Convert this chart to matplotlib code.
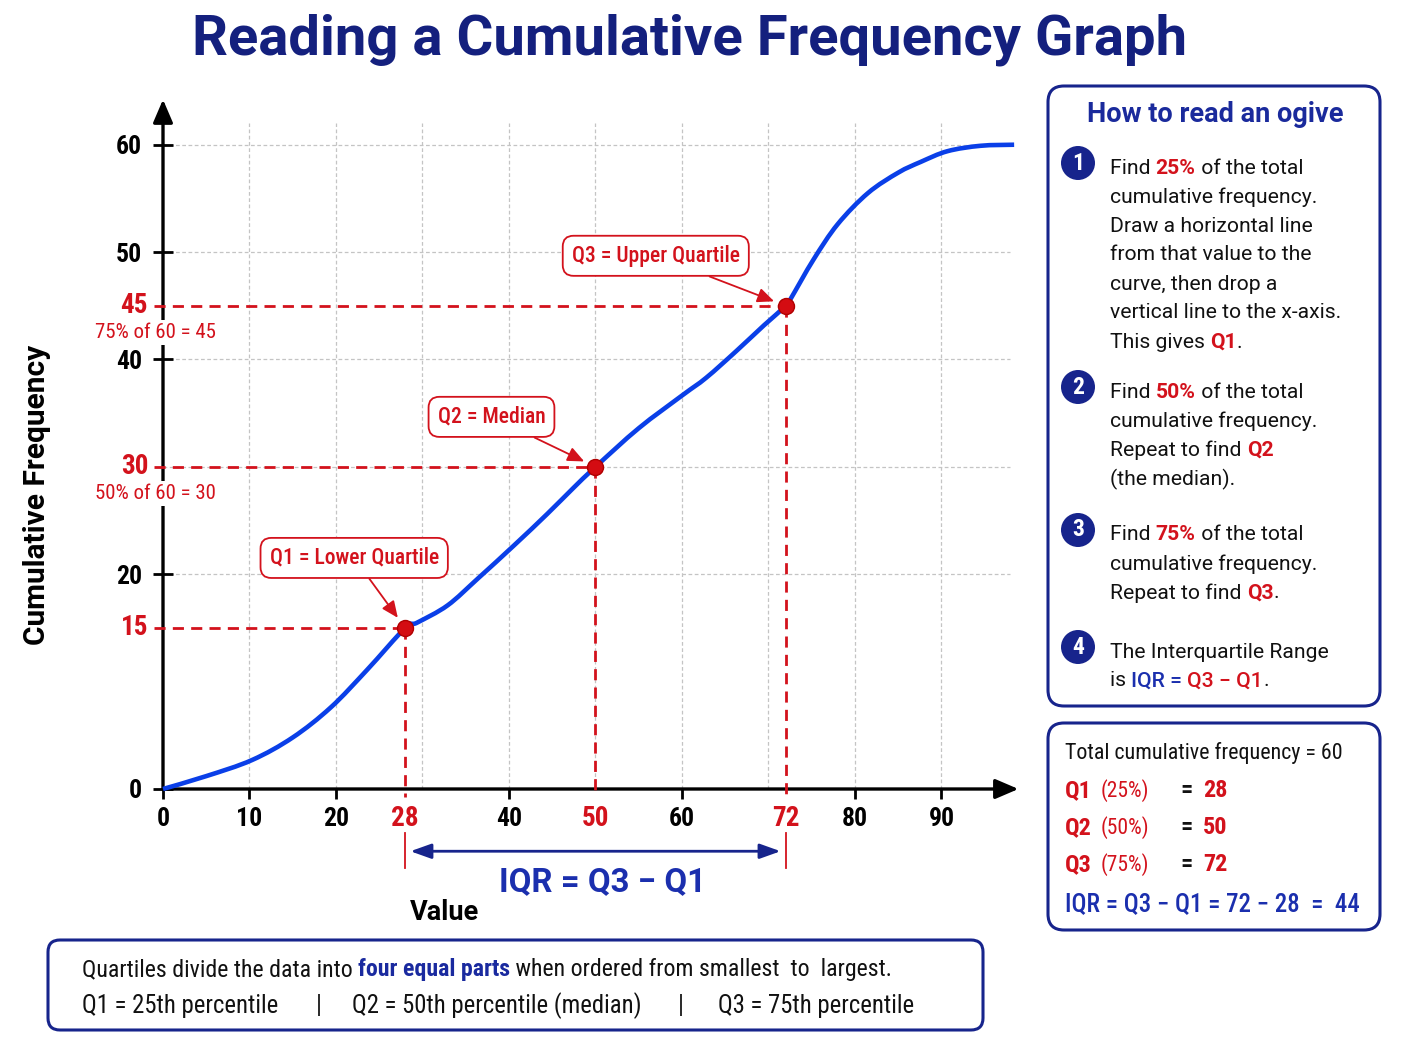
import matplotlib
matplotlib.use("Agg")
import matplotlib.pyplot as plt
import matplotlib.transforms as mtrans
from matplotlib.patches import FancyBboxPatch, Circle, PathPatch
from matplotlib.path import Path

# ---- values ----
value = [0, 5, 10.3, 15, 19.4, 23.6, 28, 29.4, 32.9, 36.4, 40.6, 44.4, 47.4, 50,
         55, 60.1, 62.8, 66.3, 69.5, 72, 72.6, 75.2, 78, 81.5, 85, 87.6, 90.7, 94.5, 98.4]
cum_freq = [0, 1.2, 2.7, 4.8, 7.6, 11.1, 15, 15.5, 17.1, 19.6, 22.7, 25.6, 28.0, 30,
            33.6, 36.7, 38.3, 40.8, 43.2, 45, 45.7, 49.3, 52.6, 55.5, 57.4, 58.4, 59.4, 59.9, 60]
total_freq = 60
quart_names = ['Q1', 'Q2', 'Q3']
quart_pct = [25, 50, 75]
quart_value = [28, 50, 72]
quart_freq = [15, 30, 45]
quart_notes = ['Q1 = Lower Quartile', 'Q2 = Median', 'Q3 = Upper Quartile']
x_ticks = [0, 10, 20, 40, 60, 80, 90]
y_ticks = [0, 20, 40, 50, 60]
grid_x = [10, 20, 30, 40, 50, 60, 70, 80, 90]
grid_y = [20, 30, 40, 50, 60]

W, H = 1408, 1056
NAVY = '#17248c'
CURVE = '#0a3fe8'
RED = '#d3121c'
TBLUE = '#1b2fae'
GRIDC = '#c4c4c4'
K = '#111111'
COND = ['Roboto Condensed', 'IBM Plex Sans Condensed', 'DejaVu Sans']
REG = ['Roboto', 'DejaVu Sans']
plt.rcParams['font.family'] = COND

fig = plt.figure(figsize=(W / 100, H / 100), dpi=100)
fig.patch.set_facecolor('white')

# overlay axes in pixel units for the boxes and free text
ov = fig.add_axes([0, 0, 1, 1], zorder=0)
ov.set_xlim(0, W)
ov.set_ylim(H, 0)
ov.axis('off')

# main graph
px0, px1, py0, py1 = 163, 1015, 789, 105
ax = fig.add_axes([px0 / W, 1 - py0 / H, (px1 - px0) / W, (py0 - py1) / H], zorder=2)
ax.patch.set_alpha(0)
ax.set_xlim(0, 98.5)
ax.set_ylim(0, 63.7)
for s in ax.spines.values():
    s.set_visible(False)

ax.vlines(grid_x, 0, 62, colors=GRIDC, linestyles=(0, (3, 2)), lw=0.9, zorder=1)
ax.hlines(grid_y, 0, 97.9, colors=GRIDC, linestyles=(0, (3, 2)), lw=0.9, zorder=1)

# axes with arrow heads
arr = dict(arrowstyle='-|>,head_length=0.7,head_width=0.3', color='black', lw=2.4,
           shrinkA=0, shrinkB=0, mutation_scale=20)
ax.annotate('', xy=(1.004, 0), xytext=(0, 0), xycoords='axes fraction',
            arrowprops=arr, annotation_clip=False, zorder=3)
ax.annotate('', xy=(0, 1.008), xytext=(0, 0), xycoords='axes fraction',
            arrowprops=arr, annotation_clip=False, zorder=3)

ax.set_xticks(x_ticks)
ax.set_yticks(y_ticks)
ax.tick_params(axis='x', direction='out', length=7, width=2, labelsize=18.5, pad=6)
ax.tick_params(axis='y', direction='inout', length=14, width=2, labelsize=18.5, pad=8)
for lbl in ax.get_xticklabels() + ax.get_yticklabels():
    lbl.set_fontweight('semibold')

# smooth ogive through the read points (Catmull-Rom -> cubic Bezier)
pts = list(zip(value, cum_freq))
verts = [pts[0]]
codes = [Path.MOVETO]
for i in range(len(pts) - 1):
    p0 = pts[max(i - 1, 0)]
    p1 = pts[i]
    p2 = pts[i + 1]
    p3 = pts[min(i + 2, len(pts) - 1)]
    c1 = (p1[0] + (p2[0] - p0[0]) / 6, p1[1] + (p2[1] - p0[1]) / 6)
    c2 = (p2[0] - (p3[0] - p1[0]) / 6, p2[1] - (p3[1] - p1[1]) / 6)
    verts += [c1, c2, p2]
    codes += [Path.CURVE4] * 3
ax.add_patch(PathPatch(Path(verts, codes), fc='none', ec=CURVE, lw=3.3, zorder=4,
                       capstyle='butt', clip_on=False))

blend = mtrans.blended_transform_factory(ax.transData, ax.transAxes)
offsets = [(-51, 70), (-104, 50), (-130, 50)]
for name, pct, q, f, note, off in zip(quart_names, quart_pct, quart_value, quart_freq,
                                      quart_notes, offsets):
    ax.plot([-1, q], [f, f], color=RED, lw=2, ls=(0, (4, 2.6)), clip_on=False, zorder=3)
    ax.plot([q, q], [f, -0.7], color=RED, lw=2, ls=(0, (4, 2.6)), clip_on=False, zorder=3)
    ax.plot(q, f, 'o', ms=11.5, mfc='#d40c12', mec='#b00000', mew=1, zorder=6, clip_on=False)
    ax.annotate(str(q), xy=(q, 0), xytext=(0, -16), textcoords='offset pixels',
                ha='center', va='top', color=RED, fontsize=19.5, fontweight='semibold',
                annotation_clip=False)
    ax.annotate(str(f), xy=(0, f), xycoords=('axes fraction', 'data'), xytext=(-15, 0),
                textcoords='offset pixels', ha='right', va='center', color=RED,
                fontsize=19.5, fontweight='semibold', annotation_clip=False)
    if pct >= 50:
        ax.annotate(f'{pct}% of {total_freq} = {f}', xy=(0, f),
                    xycoords=('axes fraction', 'data'), xytext=(-8, -27),
                    textcoords='offset pixels', ha='center', va='center', color=RED,
                    fontsize=15, annotation_clip=False, zorder=5,
                    bbox=dict(boxstyle='square,pad=0.15', fc='white', ec='none'))
    ax.annotate(note, xy=(q, f), xytext=off, textcoords='offset pixels',
                ha='center', va='center', color=RED, fontsize=15.5, fontweight='medium',
                zorder=7,
                bbox=dict(boxstyle='round,pad=0.42,rounding_size=0.5', fc='white',
                          ec=RED, lw=1.3),
                arrowprops=dict(arrowstyle='-|>,head_length=0.5,head_width=0.22',
                                color=RED, lw=1.3, shrinkA=0, shrinkB=9,
                                mutation_scale=20))

# IQR bracket under the axis
q1, q3 = quart_value[0], quart_value[2]
for q in (q1, q3):
    ax.plot([q, q], [-0.064, -0.116], color=RED, lw=1.3, transform=blend, clip_on=False)
ax.annotate('', xy=(q3 - 0.6, -0.091), xytext=(q1 + 0.6, -0.091),
            xycoords=('data', 'axes fraction'),
            arrowprops=dict(arrowstyle='<|-|>,head_length=0.7,head_width=0.25',
                            color=NAVY, lw=2, mutation_scale=18, shrinkA=0, shrinkB=0),
            annotation_clip=False)
ax.text((q1 + q3) / 2 + 0.8, -0.136, 'IQR = Q3 \u2212 Q1', transform=blend, ha='center',
        va='center', fontsize=23.8, fontweight='bold', color=TBLUE, family=REG)

# titles and axis labels
ov.text(690, 40, 'Reading a Cumulative Frequency Graph', ha='center', va='center',
        fontsize=40.5, fontweight='bold', color='#14207e', family=REG)
ov.text(445, 913, 'Value', ha='center', va='center', fontsize=19.5,
        fontweight='bold', family=REG)
ov.text(37, 495, 'Cumulative Frequency', ha='center', va='center', rotation=90,
        fontsize=21.5, fontweight='bold', family=REG)

renderer = fig.canvas.get_renderer()


def advance(txt, size, wt, family):
    a = ov.text(0, 0, txt + '|', fontsize=size, fontweight=wt, family=family)
    b = ov.text(0, 0, '|', fontsize=size, fontweight=wt, family=family)
    w = a.get_window_extent(renderer).width - b.get_window_extent(renderer).width
    a.remove()
    b.remove()
    return w


def rich(x, y, parts, size, family):
    for txt, col, wt in parts:
        ov.text(x, y, txt, color=col, fontweight=wt, fontsize=size, family=family,
                ha='left', va='center_baseline')
        x += advance(txt, size, wt, family)


def rbox(x, y, w, h, r=16):
    ov.add_patch(FancyBboxPatch((x, y), w, h, boxstyle=f'round,pad=0,rounding_size={r}',
                                fc='white', ec=NAVY, lw=2.2))


# ---- right panel: how to read ----
rbox(1048, 86, 332, 620)
ov.text(1215, 115, 'How to read an ogive', ha='center', va='center', fontsize=19.5,
        fontweight='bold', color='#1a2a9c', family=REG)

steps = [
    [[('Find ', K, 'normal'), (f'{quart_pct[0]}%', RED, 'bold'), (' of the total', K, 'normal')],
     [('cumulative frequency.', K, 'normal')],
     [('Draw a horizontal line', K, 'normal')],
     [('from that value to the', K, 'normal')],
     [('curve, then drop a', K, 'normal')],
     [('vertical line to the x-axis.', K, 'normal')],
     [('This gives ', K, 'normal'), (quart_names[0], RED, 'bold'), ('.', K, 'normal')]],
    [[('Find ', K, 'normal'), (f'{quart_pct[1]}%', RED, 'bold'), (' of the total', K, 'normal')],
     [('cumulative frequency.', K, 'normal')],
     [('Repeat to find ', K, 'normal'), (quart_names[1], RED, 'bold')],
     [('(the median).', K, 'normal')]],
    [[('Find ', K, 'normal'), (f'{quart_pct[2]}%', RED, 'bold'), (' of the total', K, 'normal')],
     [('cumulative frequency.', K, 'normal')],
     [('Repeat to find ', K, 'normal'), (quart_names[2], RED, 'bold'), ('.', K, 'normal')]],
    [[('The Interquartile Range', K, 'normal')],
     [('is ', K, 'normal'), ('IQR = ', TBLUE, 'medium'), ('Q3 \u2212 Q1', RED, 'medium'),
      ('.', K, 'normal')]],
]
step_y = [166, 390, 533, 650]
for i, (lines, y) in enumerate(zip(steps, step_y)):
    ov.add_patch(Circle((1078, y - 3), 17, fc=NAVY, ec='none'))
    ov.text(1078, y - 3, str(i + 1), color='white', ha='center', va='center',
            fontsize=17, fontweight='bold', family=COND)
    for j, parts in enumerate(lines):
        rich(1110, y + 29 * j, parts, 15.2, REG)

# ---- right panel: summary ----
rbox(1048, 723, 332, 207)
ov.text(1065, 750, f'Total cumulative frequency = {total_freq}', ha='left',
        va='center_baseline', fontsize=15.8, color=K)
for i, (name, pct, q) in enumerate(zip(quart_names, quart_pct, quart_value)):
    y = 788 + 37 * i
    ov.text(1065, y, name, color=RED, fontsize=17.5, fontweight='bold', va='center_baseline')
    ov.text(1101, y, f'({pct}%)', color=RED, fontsize=15.5, va='center_baseline')
    ov.text(1180, y, '=', color=K, fontsize=17.5, fontweight='bold', va='center_baseline')
    ov.text(1203, y, str(q), color=RED, fontsize=17.5, fontweight='bold', va='center_baseline')
ov.text(1065, 902, f'IQR = Q3 \u2212 Q1 = {q3} \u2212 {q1}  =  {q3 - q1}', color=TBLUE,
        fontsize=17.9, fontweight='medium', va='center_baseline')

# ---- bottom note ----
rbox(48, 940, 935, 90, r=12)
rich(82, 967, [('Quartiles divide the data into ', K, 'normal'),
               ('four equal parts', '#1a2a9f', 'bold'),
               (' when ordered from smallest  to  largest.', K, 'normal')], 17.2, COND)
for x, s in zip([82, 316, 352, 678, 718],
                [f'Q1 = {quart_pct[0]}th percentile', '|',
                 f'Q2 = {quart_pct[1]}th percentile (median)', '|',
                 f'Q3 = {quart_pct[2]}th percentile']):
    ov.text(x, 1003, s, ha='left', va='center_baseline', fontsize=17.8, color=K)

fig.savefig('out.png', dpi=100)
